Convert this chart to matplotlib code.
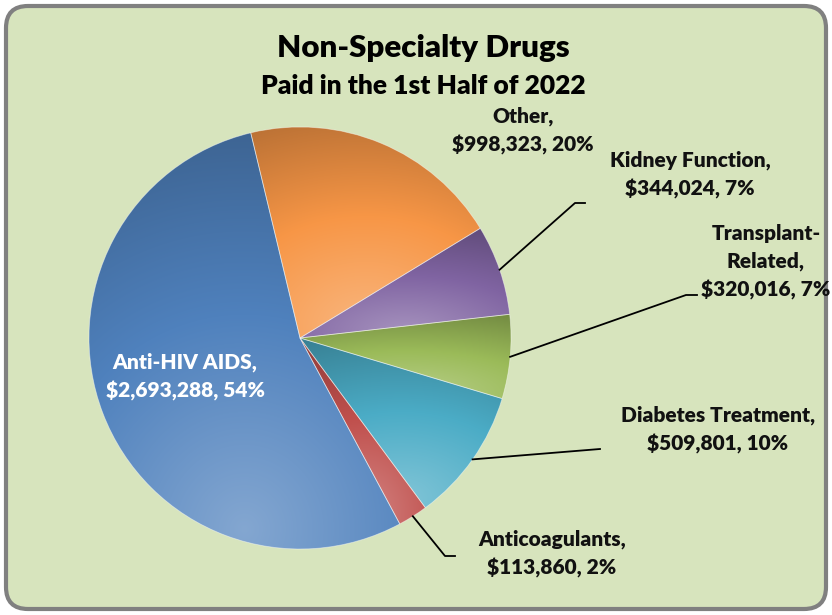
import numpy as np
import matplotlib
matplotlib.use("Agg")
import matplotlib.pyplot as plt
from matplotlib.patches import FancyBboxPatch
from matplotlib.colors import to_rgb

plt.rcParams['font.family'] = ['Lato', 'DejaVu Sans']

categories = ["Other", "Kidney Function", "Transplant-\nRelated", "Diabetes Treatment",
              "Anticoagulants", "Anti-HIV AIDS"]
amounts = [998323, 344024, 320016, 509801, 113860, 2693288]
percents = ["20%", "7%", "7%", "10%", "2%", "54%"]
colors = ["#F79646", "#8064A2", "#9BBB59", "#4BACC6", "#C0504D", "#4F81BD"]

W, H = 832, 615
fig = plt.figure(figsize=(W / 100, H / 100), dpi=100)
fig.patch.set_facecolor("white")
frame = FancyBboxPatch((6, 6), W - 12, H - 12, boxstyle="round,pad=0,rounding_size=22",
                       transform=None, facecolor="#D7E4BD", edgecolor="#808080",
                       linewidth=3, zorder=-1)
fig.patches.append(frame)

ax = fig.add_axes([0, 0, 1, 1])
ax.patch.set_alpha(0)

cx, cy, R = 300, H - 338, 211
wedges, _ = ax.pie(amounts, colors=colors, startangle=103.5, counterclock=False,
                   center=(cx, cy), radius=R, frame=True,
                   wedgeprops=dict(linewidth=0.6, edgecolor=(1, 1, 1, 0.45)))
ax.set_aspect("equal")
ax.axis("off")

# shaded fill for each slice: light spot low in the slice, darker towards the top
for w, col in zip(wedges, colors):
    v = w.get_path().vertices
    x0, y0 = v.min(axis=0)
    x1, y1 = v.max(axis=0)
    n = 240
    gx, gy = np.meshgrid(np.linspace(0, 1, n), np.linspace(0, 1, n))
    d = np.sqrt(((gx - 0.5) * 0.8) ** 2 + (gy - 0.05) ** 2)
    t = 1 - np.clip(d / d.max(), 0, 1)
    base = np.array(to_rgb(col))
    dark = base * 0.74
    light = base + (1 - base) * 0.3
    lo = np.clip(t * 2, 0, 1)[..., None]
    hi = np.clip(t * 2 - 1, 0, 1)[..., None]
    img = dark * (1 - lo) + base * lo
    img = img * (1 - hi) + light * hi
    im = ax.imshow(img, extent=(x0, x1, y0, y1), origin="lower", zorder=1.5,
                   interpolation="bilinear")
    im.set_clip_path(w)
    w.set_facecolor("none")
    w.set_zorder(2)

ax.set_xlim(0, W)
ax.set_ylim(0, H)

fs = 15
txt = dict(fontsize=fs, fontweight="heavy", ha="center", va="center", color="#111111",
           linespacing=1.55)

def label(i, x, y, **kw):
    s = f"{categories[i]},\n${amounts[i]:,}, {percents[i]}"
    opts = dict(txt)
    opts.update(kw)
    ax.text(x, H - y, s, **opts)

def leader(i, pts):
    w = wedges[i]
    mid = np.deg2rad((w.theta1 + w.theta2) / 2)
    xs = [cx + R * np.cos(mid)] + [p[0] for p in pts]
    ys = [cy + R * np.sin(mid)] + [H - p[1] for p in pts]
    ax.plot(xs, ys, color="black", linewidth=1.3, zorder=3)

label(0, 523, 131)
label(1, 690, 175)
label(2, 766, 262)
label(3, 718, 430)
label(4, 552, 554)
label(5, 185, 377, color="white")

leader(1, [(575, 203), (585, 203)])
leader(2, [(686, 295), (697, 295)])
leader(3, [(600, 449)])
leader(4, [(445, 556), (455, 556)])

ax.text(423, H - 48, "Non-Specialty Drugs", fontsize=22.5, fontweight="heavy",
        ha="center", va="center", color="black")
ax.text(423, H - 86, "Paid in the 1st Half of 2022", fontsize=19, fontweight="heavy",
        ha="center", va="center", color="black")

fig.savefig("out.png", dpi=100)
